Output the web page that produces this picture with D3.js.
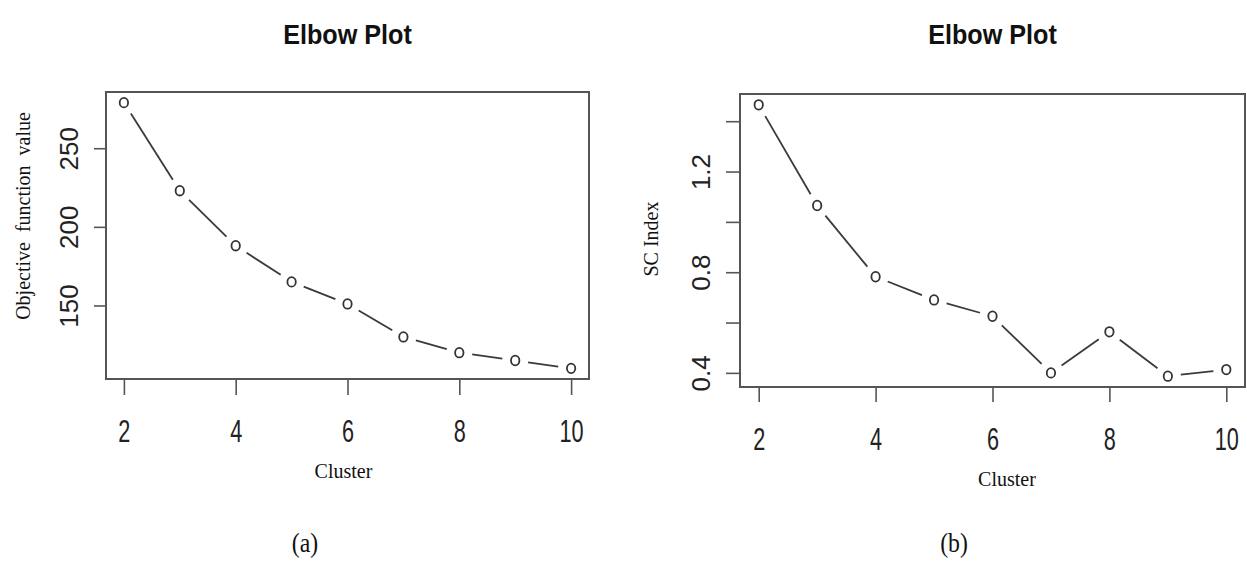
<!DOCTYPE html>
<html>
<head>
<meta charset="utf-8">
<script src="https://cdn.jsdelivr.net/npm/d3@7"></script>
<style>
  html, body { margin: 0; padding: 0; background: #fff; }
  svg { display: block; }
</style>
</head>
<body>
<svg id="chart" width="1247" height="562"></svg>
<script>
// ---- data ----
const clusters = [2, 3, 4, 5, 6, 7, 8, 9, 10];
const objectiveValues = [279, 223, 188, 165, 151, 130, 120, 115, 110];
const scIndexValues = [1.465, 1.065, 0.782, 0.69, 0.625, 0.40, 0.563, 0.387, 0.413];
const xTickValues = [2, 4, 6, 8, 10];
const leftYTicks = [150, 200, 250];
const leftYLabels = ["150", "200", "250"];
const rightYTicks = [0.4, 0.6, 0.8, 1.0, 1.2, 1.4];
const rightYLabels = ["0.4", "", "0.8", "", "1.2", ""];
const titles = ["Elbow Plot", "Elbow Plot"];
const yTitles = ["Objective  function  value", "SC Index"];
const xTitle = "Cluster";
const captions = ["(a)", "(b)"];

const svg = d3.select("#chart");

function pad(ext) { const r = ext[1] - ext[0]; return [ext[0] - 0.04 * r, ext[1] + 0.04 * r]; }

const panels = [
  { box: { x0: 106, x1: 589, y0: 92, y1: 379 }, values: objectiveValues, yTicks: leftYTicks, yLabels: leftYLabels,
    title: titles[0], yTitle: yTitles[0], yTitleX: 30, yTitleY: 216, xTitleX: 343.5, xTitleY: 478, cap: captions[0], capX: 305,
    yLabelOff: 28, yTickLen: 12, xTickLen: 16 },
  { box: { x0: 740, x1: 1245, y0: 94, y1: 387 }, values: scIndexValues, yTicks: rightYTicks, yLabels: rightYLabels,
    title: titles[1], yTitle: yTitles[1], yTitleX: 658, yTitleY: 239, xTitleX: 1007, xTitleY: 486, cap: captions[1], capX: 954,
    yLabelOff: 30, yTickLen: 14, xTickLen: 15 }
];

panels.forEach(p => {
  const b = p.box;
  const x = d3.scaleLinear().domain(pad([2, 10])).range([b.x0, b.x1]);
  const y = d3.scaleLinear().domain(pad(d3.extent(p.values))).range([b.y1, b.y0]);

  const g = svg.append("g");

  // frame
  g.append("rect").attr("x", b.x0).attr("y", b.y0).attr("width", b.x1 - b.x0).attr("height", b.y1 - b.y0)
    .attr("fill", "none").attr("stroke", "#555").attr("stroke-width", 2);

  // x axis
  const xa = g.append("g").attr("transform", `translate(0,${b.y1})`)
    .call(d3.axisBottom(x).tickValues(xTickValues).tickSize(p.xTickLen).tickFormat(d3.format("d")));
  xa.select(".domain").remove();
  xa.selectAll(".tick line").attr("stroke", "#555").attr("stroke-width", 1.6);
  xa.selectAll(".tick text")
    .attr("y", null).attr("dy", null)
    .attr("transform", "translate(0,63) scale(0.7,1)")
    .attr("font-family", "'Liberation Sans', Arial, sans-serif")
    .attr("font-size", 31).attr("fill", "#222");

  // y axis
  const ya = g.append("g").attr("transform", `translate(${b.x0},0)`)
    .call(d3.axisLeft(y).tickValues(p.yTicks).tickSize(p.yTickLen).tickFormat((d, i) => p.yLabels[i]));
  ya.select(".domain").remove();
  ya.selectAll(".tick line").attr("stroke", "#555").attr("stroke-width", 1.6);
  ya.selectAll(".tick text")
    .attr("x", 0).attr("y", -p.yLabelOff).attr("dy", null)
    .attr("transform", "rotate(-90)")
    .attr("text-anchor", "middle")
    .attr("font-family", "'Liberation Sans', Arial, sans-serif")
    .attr("font-size", 26).attr("fill", "#222");

  // line segments with gaps (type = "b")
  const pts = clusters.map((c, i) => [x(c), y(p.values[i])]);
  const gap = 13;
  const segs = d3.pairs(pts).map(([a, c]) => {
    const dx = c[0] - a[0], dy = c[1] - a[1];
    const L = Math.hypot(dx, dy);
    const ux = dx / L, uy = dy / L;
    return [[a[0] + ux * gap, a[1] + uy * gap], [c[0] - ux * gap, c[1] - uy * gap]];
  });
  g.selectAll("line.seg").data(segs).enter().append("line")
    .attr("class", "seg")
    .attr("x1", d => d[0][0]).attr("y1", d => d[0][1])
    .attr("x2", d => d[1][0]).attr("y2", d => d[1][1])
    .attr("stroke", "#3a3a3a").attr("stroke-width", 1.8);

  // points
  g.selectAll("ellipse.pt").data(clusters).enter().append("ellipse")
    .attr("class", "pt")
    .attr("cx", d => x(d)).attr("cy", (d, i) => y(p.values[i]))
    .attr("rx", 4.2).attr("ry", 4.8).attr("fill", "#fff").attr("stroke", "#333").attr("stroke-width", 1.8);

  // title
  g.append("text")
    .attr("transform", `translate(${(b.x0 + b.x1) / 2},44) scale(0.9,1)`)
    .attr("text-anchor", "middle")
    .attr("font-family", "'Liberation Sans', Arial, sans-serif")
    .attr("font-weight", "bold").attr("font-size", 28).attr("fill", "#111")
    .text(p.title);

  // y title
  g.append("text")
    .attr("transform", `translate(${p.yTitleX},${p.yTitleY}) rotate(-90)`)
    .attr("text-anchor", "middle")
    .attr("font-family", "'Liberation Serif', 'Times New Roman', serif")
    .attr("font-size", 20).attr("fill", "#111")
    .style("white-space", "pre")
    .text(p.yTitle);

  // x title
  g.append("text").attr("x", p.xTitleX).attr("y", p.xTitleY)
    .attr("text-anchor", "middle")
    .attr("font-family", "'Liberation Serif', 'Times New Roman', serif")
    .attr("font-size", 20).attr("fill", "#111")
    .text(xTitle);

  // caption
  g.append("text")
    .attr("transform", `translate(${p.capX},552) scale(0.85,1)`)
    .attr("text-anchor", "middle")
    .attr("font-family", "'Liberation Serif', 'Times New Roman', serif")
    .attr("font-size", 28).attr("fill", "#111")
    .text(p.cap);
});
</script>
</body>
</html>
